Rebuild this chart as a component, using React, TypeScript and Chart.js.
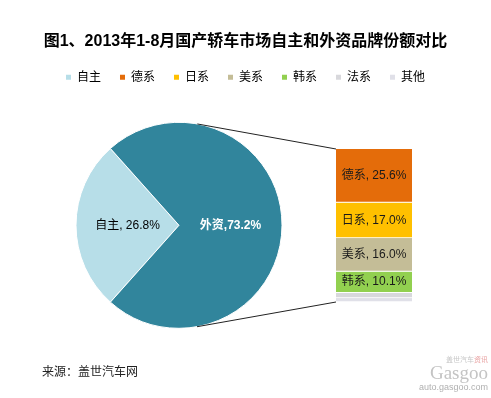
import React, { useEffect, useRef } from "react";
import { Chart, registerables } from "chart.js";

Chart.register(...registerables);

const FONT = "'Liberation Sans', 'Noto Sans CJK SC', Arial, sans-serif";
const TITLE_FONT = "'Liberation Sans', 'Noto Sans CJK SC', sans-serif";
const TITLE = "图1、2013年1-8月国产轿车市场自主和外资品牌份额对比";
const SOURCE = "来源：盖世汽车网";

const pieLabels = ["自主", "外资"];
const pieValues = [26.8, 73.2];
const pieColors = ["#b7dee8", "#31859c"];

const barLabels = ["德系", "日系", "美系", "韩系", "法系", "其他"];
const barValues = [25.6, 17.0, 16.0, 10.1, 2.5, 2.0];
const barColors = ["#e46c0a", "#ffc000", "#c4bd97", "#92d050", "#d8d8dc", "#e0e0e8"];

const legendLabels = [pieLabels[0], ...barLabels];
const legendColors = [pieColors[0], ...barColors];

export default function App() {
  const pieRef = useRef<HTMLCanvasElement>(null);
  const barRef = useRef<HTMLCanvasElement>(null);

  useEffect(() => {
    const pieTotal = pieValues.reduce((a, b) => a + b, 0);
    const firstSweep = (pieValues[0] / pieTotal) * 360;
    const barTotal = barValues.reduce((a, b) => a + b, 0);

    const pieLabelPlugin = {
      id: "pieLabels",
      afterDatasetsDraw(chart: any) {
        const ctx = chart.ctx;
        const meta = chart.getDatasetMeta(0);
        meta.data.forEach((arc: any, i: number) => {
          const p = arc.tooltipPosition(false);
          const v = pieValues[i].toFixed(1);
          ctx.save();
          ctx.textAlign = "center";
          ctx.textBaseline = "middle";
          if (i === 0) {
            ctx.font = `12px ${FONT}`;
            ctx.fillStyle = "#000";
            ctx.fillText(`${pieLabels[i]}, ${v}%`, p.x, p.y);
          } else {
            ctx.font = `bold 12px ${FONT}`;
            ctx.fillStyle = "#fff";
            ctx.fillText(`${pieLabels[i]},${v}%`, p.x, p.y);
          }
          ctx.restore();
        });
      },
    };

    const spacer = (pos: string, size: number) => ({
      type: "linear",
      position: pos,
      display: true,
      grid: { display: false },
      border: { display: false },
      ticks: { display: false },
      afterFit: (s: any) => {
        s.width = size;
      },
    });

    const pie = new Chart(pieRef.current as HTMLCanvasElement, {
      type: "pie",
      data: {
        labels: pieLabels,
        datasets: [
          {
            data: pieValues,
            backgroundColor: pieColors,
            borderColor: "#ffffff",
            borderWidth: 1,
          },
        ],
      },
      options: {
        responsive: false,
        animation: false,
        rotation: 270 - firstSweep / 2,
        layout: { padding: { top: 0, bottom: 40.6, left: 0, right: 0 } },
        scales: {
          padL: spacer("left", 75.5),
          padR: spacer("right", 208.5),
        } as any,
        plugins: {
          title: {
            display: true,
            text: TITLE,
            color: "#000",
            font: { size: 16, weight: "bold", family: TITLE_FONT },
            padding: { top: 32, bottom: 1 },
          },
          legend: {
            display: true,
            position: "top",
            onClick: () => {},
            labels: {
              boxWidth: 5,
              boxHeight: 5,
              padding: 19,
              color: "#000",
              font: { size: 12, family: FONT },
              generateLabels: () =>
                legendLabels.map((t, i) => ({
                  text: t,
                  fillStyle: legendColors[i],
                  strokeStyle: legendColors[i],
                  lineWidth: 0,
                  hidden: false,
                  index: i,
                  fontColor: "#000",
                })),
            },
          },
          tooltip: { enabled: false },
        },
      } as any,
      plugins: [pieLabelPlugin],
    });

    const barLabelPlugin = {
      id: "barLabels",
      afterDatasetsDraw(chart: any) {
        const ctx = chart.ctx;
        barLabels.forEach((lab, i) => {
          if (barValues[i] < 5) return;
          const el = chart.getDatasetMeta(i).data[0];
          const y = (el.y + el.base) / 2;
          ctx.save();
          ctx.font = `12px ${FONT}`;
          ctx.fillStyle = "#1a1a1a";
          ctx.textAlign = "center";
          ctx.textBaseline = "middle";
          ctx.fillText(`${lab}, ${barValues[i].toFixed(1)}%`, el.x, y);
          ctx.restore();
        });
      },
    };

    const connectorPlugin = {
      id: "connectors",
      afterDatasetsDraw(chart: any) {
        const arc: any = pie.getDatasetMeta(0).data[0];
        const cx = arc.x;
        const cy = arc.y;
        const r = arc.outerRadius;
        const el = chart.getDatasetMeta(0).data[0];
        const left = el.x - el.width / 2;
        const ys = chart.scales.y;
        const top = ys.getPixelForValue(0);
        const bottom = ys.getPixelForValue(barTotal);
        const tangent = (px: number, py: number, sign: number) => {
          const dx = px - cx;
          const dy = py - cy;
          const d = Math.hypot(dx, dy);
          const th = Math.atan2(dy, dx);
          const a = Math.acos(Math.min(1, r / d));
          const ang = th + sign * a;
          return [cx + r * Math.cos(ang), cy + r * Math.sin(ang)];
        };
        const t1 = tangent(left, top, -1);
        const t2 = tangent(left, bottom, 1);
        const ctx = chart.ctx;
        ctx.save();
        ctx.strokeStyle = "#222";
        ctx.lineWidth = 1;
        ctx.beginPath();
        ctx.moveTo(left, top);
        ctx.lineTo(t1[0], t1[1]);
        ctx.moveTo(left, bottom);
        ctx.lineTo(t2[0], t2[1]);
        ctx.stroke();
        ctx.restore();
      },
    };

    const bar = new Chart(barRef.current as HTMLCanvasElement, {
      type: "bar",
      data: {
        labels: [pieLabels[1]],
        datasets: barLabels.map((l, i) => ({
          label: l,
          data: [barValues[i]],
          backgroundColor: barColors[i],
          borderColor: "#ffffff",
          borderWidth: { top: 0, right: 0, bottom: 1, left: 0 },
          borderSkipped: false,
          barPercentage: 1,
          categoryPercentage: 1,
        })),
      },
      options: {
        responsive: false,
        animation: false,
        layout: { padding: { left: 336, right: 79, top: 149, bottom: 96 } },
        scales: {
          x: { display: false, stacked: true },
          y: { display: false, stacked: true, reverse: true, min: 0, max: barTotal },
        },
        plugins: {
          legend: { display: false },
          title: { display: false },
          tooltip: { enabled: false },
        },
      } as any,
      plugins: [connectorPlugin, barLabelPlugin],
    });

    return () => {
      bar.destroy();
      pie.destroy();
    };
  }, []);

  return (
    <div
      style={{
        position: "fixed",
        left: 0,
        top: 0,
        width: 491,
        height: 398,
        background: "#fff",
        overflow: "hidden",
      }}
    >
      <canvas
        ref={pieRef}
        width={491}
        height={398}
        style={{ position: "absolute", left: 0, top: 0, display: "block" }}
      />
      <canvas
        ref={barRef}
        width={491}
        height={398}
        style={{ position: "absolute", left: 0, top: 0, display: "block", pointerEvents: "none" }}
      />
      <div
        style={{
          position: "absolute",
          left: 42,
          top: 364,
          fontSize: 12,
          lineHeight: "16px",
          color: "#222",
          fontFamily: FONT,
          whiteSpace: "nowrap",
        }}
      >
        {SOURCE}
      </div>
      <div
        style={{
          position: "absolute",
          left: 400,
          top: 356,
          width: 88,
          textAlign: "right",
          color: "#b8b8b8",
          fontFamily: FONT,
          whiteSpace: "nowrap",
        }}
      >
        <div style={{ fontSize: 7, lineHeight: "8px", color: "#c8c8c8" }}>
          盖世汽车<span style={{ color: "#e8a0a0" }}>资讯</span>
        </div>
        <div style={{ fontSize: 19, lineHeight: "18px", fontFamily: "'Liberation Serif', serif", color: "#c4c4c4" }}>
          Gasgoo
        </div>
        <div style={{ fontSize: 9, lineHeight: "11px", color: "#b0b0b0" }}>auto.gasgoo.com</div>
      </div>
    </div>
  );
}
